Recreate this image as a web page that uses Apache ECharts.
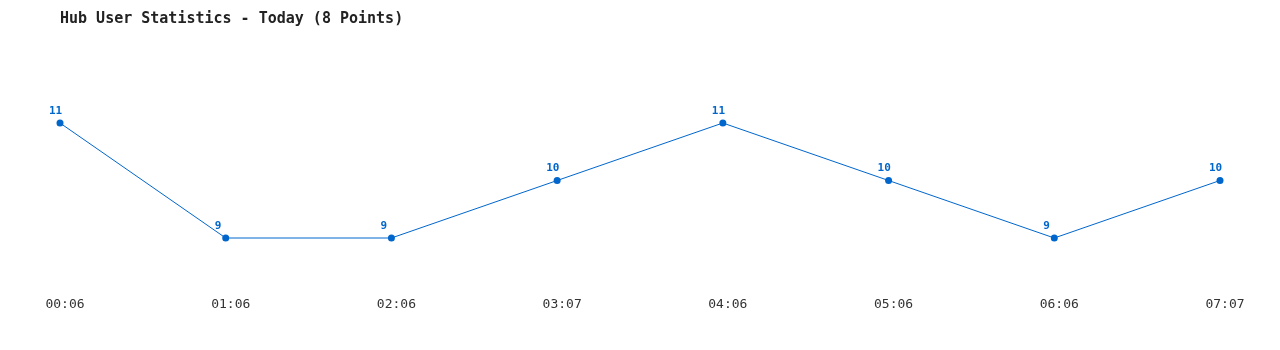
<!DOCTYPE html>
<html><head><meta charset="utf-8">
<script src="https://cdn.jsdelivr.net/npm/echarts@6/dist/echarts.min.js"></script>
<style>html,body{margin:0;padding:0;background:#fff}#c{width:1280px;height:350px}</style>
</head><body><div id="c"></div>
<script>
const categories = ['00:06','01:06','02:06','03:07','04:06','05:06','06:06','07:07'];
const users = [11, 9, 9, 10, 11, 10, 9, 10];
const titleText = 'Hub User Statistics - Today (8 Points)';

const chart = echarts.init(document.getElementById('c'), null, {renderer:'canvas'});
chart.setOption({
  animation: false,
  backgroundColor: '#ffffff',
  title: {
    text: titleText, left: 60, top: 12, padding: 0,
    textStyle: {fontFamily: 'DejaVu Sans Mono', fontSize: 15, fontWeight: 'bold', color: '#222'}
  },
  grid: {left: 60, right: 60, top: 65.5, bottom: 54.5},
  xAxis: {
    type: 'category', data: categories, boundaryGap: false,
    axisLine: {show: false}, axisTick: {show: false}, splitLine: {show: false},
    axisLabel: {margin: 3, fontFamily: 'DejaVu Sans Mono', fontSize: 13, color: '#333',
      padding: [0,0,0,10], interval: 0}
  },
  yAxis: {
    type: 'value', min: 8, max: 12, interval: 1,
    axisLine: {show: false}, axisTick: {show: false}, splitLine: {show: false},
    axisLabel: {show: false}
  },
  series: [{
    type: 'line', data: users,
    symbol: 'circle', symbolSize: 7,
    lineStyle: {color: '#0066cc', width: 1},
    itemStyle: {color: '#0066cc'},
    label: {show: true, position: 'top', align: 'left', offset: [-11, 2],
      fontFamily: 'DejaVu Sans Mono', fontSize: 11, fontWeight: 'bold', color: '#0066cc'}
  }]
});
</script></body></html>
